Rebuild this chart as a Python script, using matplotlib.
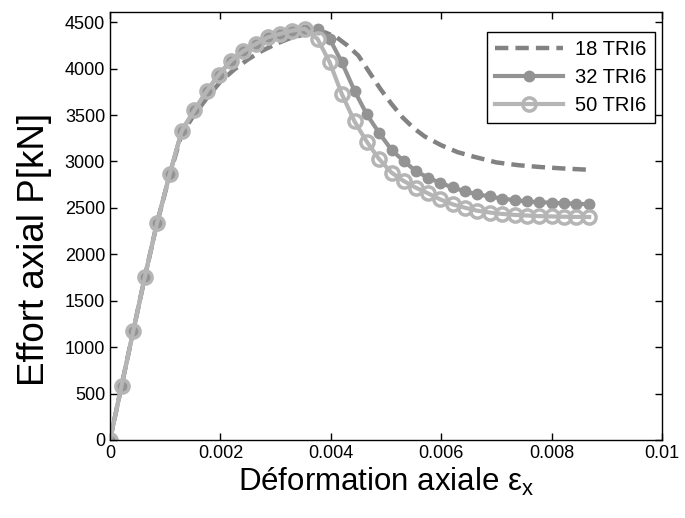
import matplotlib
matplotlib.use("Agg")
import matplotlib.pyplot as plt

# axial strain at the marker positions (32 TRI6 and 50 TRI6 meshes)
strain = [0, 0.00021, 0.00042, 0.00063, 0.00085, 0.00108, 0.0013, 0.00153,
          0.00175, 0.00197, 0.00219, 0.00241, 0.00264, 0.00286, 0.00308,
          0.0033, 0.00353, 0.00376, 0.00398, 0.0042, 0.00443, 0.00465,
          0.00487, 0.0051, 0.00532, 0.00554, 0.00576, 0.00598, 0.00621,
          0.00643, 0.00665, 0.00688, 0.0071, 0.00733, 0.00755, 0.00777,
          0.008, 0.00822, 0.00845, 0.00868]

load_32 = [0, 586, 1170, 1753, 2333, 2860, 3330, 3553, 3754, 3934, 4085,
           4187, 4266, 4338, 4374, 4405, 4420, 4428, 4320, 4068, 3761, 3510,
           3312, 3125, 3005, 2897, 2826, 2770, 2720, 2678, 2646, 2624, 2600,
           2584, 2570, 2562, 2556, 2549, 2545, 2538]

load_50 = [0, 586, 1170, 1753, 2333, 2860, 3330, 3553, 3754, 3934, 4085,
           4187, 4266, 4338, 4374, 4410, 4428, 4320, 4068, 3726, 3431, 3215,
           3030, 2880, 2790, 2718, 2657, 2592, 2538, 2502, 2470, 2450, 2435,
           2425, 2418, 2412, 2408, 2405, 2403, 2402]

# 18 TRI6 mesh (dashed, no markers)
strain_18 = [0, 0.00021, 0.00042, 0.00063, 0.00085, 0.00108, 0.0013, 0.0015,
             0.00175, 0.002, 0.00225, 0.0025, 0.00275, 0.003, 0.00325, 0.0035,
             0.0037, 0.0039, 0.0041, 0.0043, 0.0045, 0.0047, 0.0049, 0.0051,
             0.0053, 0.0055, 0.0057, 0.006, 0.0063, 0.0066, 0.007, 0.0074,
             0.0078, 0.0082, 0.0087]
load_18 = [0, 586, 1170, 1753, 2333, 2850, 3300, 3480, 3680, 3860, 3990,
           4100, 4190, 4265, 4325, 4365, 4390, 4390, 4340, 4250, 4140, 3960,
           3780, 3620, 3475, 3360, 3270, 3175, 3100, 3050, 2990, 2960, 2940,
           2925, 2910]

labels = ["18 TRI6", "32 TRI6", "50 TRI6"]
xticks = [0, 0.002, 0.004, 0.006, 0.008, 0.01]
xtick_labels = ["0", "0.002", "0.004", "0.006", "0.008", "0.01"]
yticks = [0, 500, 1000, 1500, 2000, 2500, 3000, 3500, 4000, 4500]

plt.rcParams['font.family'] = ['Liberation Sans', 'DejaVu Sans']

fig = plt.figure(figsize=(6.85, 5.18), dpi=100)
ax = fig.add_axes([0.1606, 0.1506, 0.8058, 0.8262])

ax.plot(strain_18, load_18, '--', color='#828282', lw=3.2, dashes=(3, 1.6),
        label=labels[0])
ax.plot(strain, load_32, '-o', color='#939393', lw=3, ms=7.5,
        mfc='#939393', mec='#939393', label=labels[1])
ax.plot(strain, load_50, '-o', color='#b5b5b5', lw=3, ms=9.5, mew=2.5,
        mfc='none', mec='#b5b5b5', label=labels[2])

ax.set_xlim(0, 0.01)
ax.set_ylim(0, 4610)
ax.set_xticks(xticks)
ax.set_xticklabels(xtick_labels)
ax.set_yticks(yticks)
ax.tick_params(direction='in', top=True, right=True, length=5,
               labelsize=13, width=1)
for s in ax.spines.values():
    s.set_linewidth(1)

ax.set_xlabel(r"Déformation axiale $\mathregular{\varepsilon_x}$", fontsize=22.5,
              labelpad=3)
ax.set_ylabel("Effort axial P[kN]", fontsize=26.5)
ax.yaxis.set_label_coords(-0.106, 0.445)

leg = ax.legend(loc='upper right', bbox_to_anchor=(0.987, 0.953),
                borderaxespad=0, fontsize=14.5, handlelength=3.4,
                fancybox=False, edgecolor='black', framealpha=1,
                borderpad=0.4, labelspacing=0.45, handletextpad=0.6)
leg.get_frame().set_linewidth(1)

fig.savefig("out.png", dpi=100)
